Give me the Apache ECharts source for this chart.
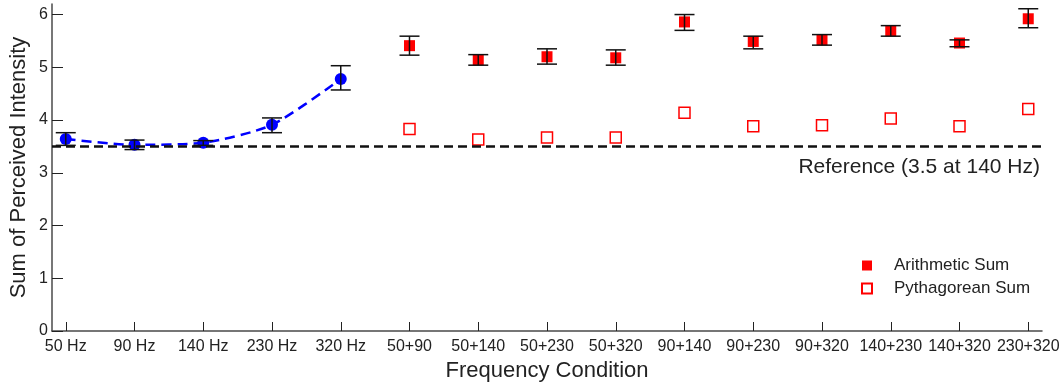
<!DOCTYPE html>
<html>
<head>
<meta charset="utf-8">
<script src="https://cdn.jsdelivr.net/npm/echarts@6/dist/echarts.min.js"></script>
<style>html,body{margin:0;padding:0;background:#fff}#c{width:1063px;height:386px}</style>
</head>
<body>
<div id="c"></div>
<script>
var categories = ['50 Hz','90 Hz','140 Hz','230 Hz','320 Hz','50+90','50+140','50+230','50+320','90+140','90+230','90+320','140+230','140+320','230+320'];
// single-frequency means (indices 0-4)
var singleMean = [3.64, 3.53, 3.57, 3.91, 4.78];
var singleLow  = [3.52, 3.44, 3.52, 3.76, 4.57];
var singleHigh = [3.76, 3.62, 3.61, 4.04, 5.03];
// pair conditions (indices 5-14)
var arithMean = [5.41, 5.14, 5.20, 5.18, 5.86, 5.49, 5.52, 5.69, 5.46, 5.92];
var arithLow  = [5.23, 5.04, 5.06, 5.04, 5.70, 5.35, 5.42, 5.59, 5.39, 5.75];
var arithHigh = [5.59, 5.24, 5.35, 5.33, 6.00, 5.59, 5.62, 5.79, 5.52, 6.11];
var pythag    = [3.83, 3.63, 3.67, 3.67, 4.14, 3.88, 3.90, 4.03, 3.88, 4.21];
var referenceValue = 3.5;
var referenceLabel = 'Reference (3.5 at 140 Hz)';
var yTicks = [0,1,2,3,4,5,6];

var nSingle = singleMean.length;
var singleData = singleMean.map(function(v,i){return [i, v];});
var arithData = arithMean.map(function(v,i){return [i+nSingle, v];});
var pythData = pythag.map(function(v,i){return [i+nSingle, v];});
var errData = singleLow.map(function(v,i){return [i, v, singleHigh[i]];})
  .concat(arithLow.map(function(v,i){return [i+nSingle, v, arithHigh[i]];}));
var xTickVals = categories.map(function(c,i){return i;});

var font = 'Liberation Sans, Arial, sans-serif';
var axisCol = '#4a4a4a';

var chart = echarts.init(document.getElementById('c'));
chart.setOption({
  animation: false,
  backgroundColor: '#fff',
  grid: {left: 52, right: 21, top: 4, bottom: 55, containLabel: false, outerBoundsMode: 'none'},
  legend: {
    orient: 'vertical', left: 856, top: 252,
    itemWidth: 10, itemHeight: 10, itemGap: 6,
    textStyle: {fontFamily: font, fontSize: 17, color: '#222', padding: [0,0,0,17], lineHeight: 16},
    data: [{name: 'Arithmetic Sum', icon: 'rect'}, {name: 'Pythagorean Sum', icon: 'rect'}]
  },
  xAxis: {
    type: 'value', min: -0.2, max: 14.2,
    name: 'Frequency Condition', nameLocation: 'middle', nameGap: 29,
    nameTextStyle: {fontFamily: font, fontSize: 22, color: '#222'},
    axisLine: {show: true, onZero: false, lineStyle: {color: axisCol, width: 1.5}},
    axisTick: {show: true, inside: true, length: 9, customValues: xTickVals, lineStyle: {color: '#222', width: 1}},
    axisLabel: {customValues: xTickVals, margin: 8, fontFamily: font, fontSize: 16, color: '#222',
      formatter: function(v){ return categories[Math.round(v)]; }},
    splitLine: {show: false}
  },
  yAxis: {
    type: 'value', min: 0, max: 6.2,
    name: 'Sum of Perceived Intensity', nameLocation: 'middle', nameGap: 22, nameRotate: 90,
    nameMoveOverlap: false,
    nameTextStyle: {fontFamily: font, fontSize: 22, color: '#222'},
    axisLine: {show: true, onZero: false, lineStyle: {color: axisCol, width: 1.5}},
    axisTick: {show: true, inside: true, length: 11, customValues: yTicks, lineStyle: {color: '#222', width: 1}},
    axisLabel: {customValues: yTicks, margin: 4, fontFamily: font, fontSize: 16, color: '#222'},
    splitLine: {show: false}
  },
  series: [
    {
      name: 'ref', type: 'line', data: [], silent: true,
      markLine: {
        silent: true, symbol: 'none',
        lineStyle: {color: '#111', width: 2.5, type: [9,5]},
        label: {show: true, position: 'insideEndBottom', formatter: referenceLabel, distance: [2, 10],
          fontFamily: font, fontSize: 21, color: '#222'},
        data: [{yAxis: referenceValue}]
      }
    },
    {
      name: 'Single', type: 'line', data: singleData, smooth: 0.25,
      symbol: 'circle', symbolSize: 12,
      itemStyle: {color: '#0000ff', opacity: 1},
      lineStyle: {color: '#0000ff', width: 2.5, type: [10,6]},
      z: 3
    },
    {
      name: 'Arithmetic Sum', type: 'scatter', data: arithData,
      symbol: 'rect', symbolSize: 11,
      itemStyle: {color: '#ff0000', opacity: 1}, z: 3
    },
    {
      name: 'Pythagorean Sum', type: 'scatter', data: pythData,
      symbol: 'rect', symbolSize: 11,
      itemStyle: {color: '#ffffff', borderColor: '#ff0000', borderWidth: 1.5, opacity: 1}, z: 3
    },
    {
      name: 'err', type: 'custom', data: errData, z: 5, silent: true,
      renderItem: function(params, api){
        var x = api.value(0);
        var lo = api.coord([x, api.value(1)]);
        var hi = api.coord([x, api.value(2)]);
        var hw = 10;
        var st = {stroke: '#111', lineWidth: 1.5, fill: null};
        return {type: 'group', children: [
          {type: 'line', shape: {x1: lo[0], y1: lo[1], x2: hi[0], y2: hi[1]}, style: st},
          {type: 'line', shape: {x1: lo[0]-hw, y1: lo[1], x2: lo[0]+hw, y2: lo[1]}, style: st},
          {type: 'line', shape: {x1: hi[0]-hw, y1: hi[1], x2: hi[0]+hw, y2: hi[1]}, style: st}
        ]};
      }
    }
  ]
});
</script>
</body>
</html>
